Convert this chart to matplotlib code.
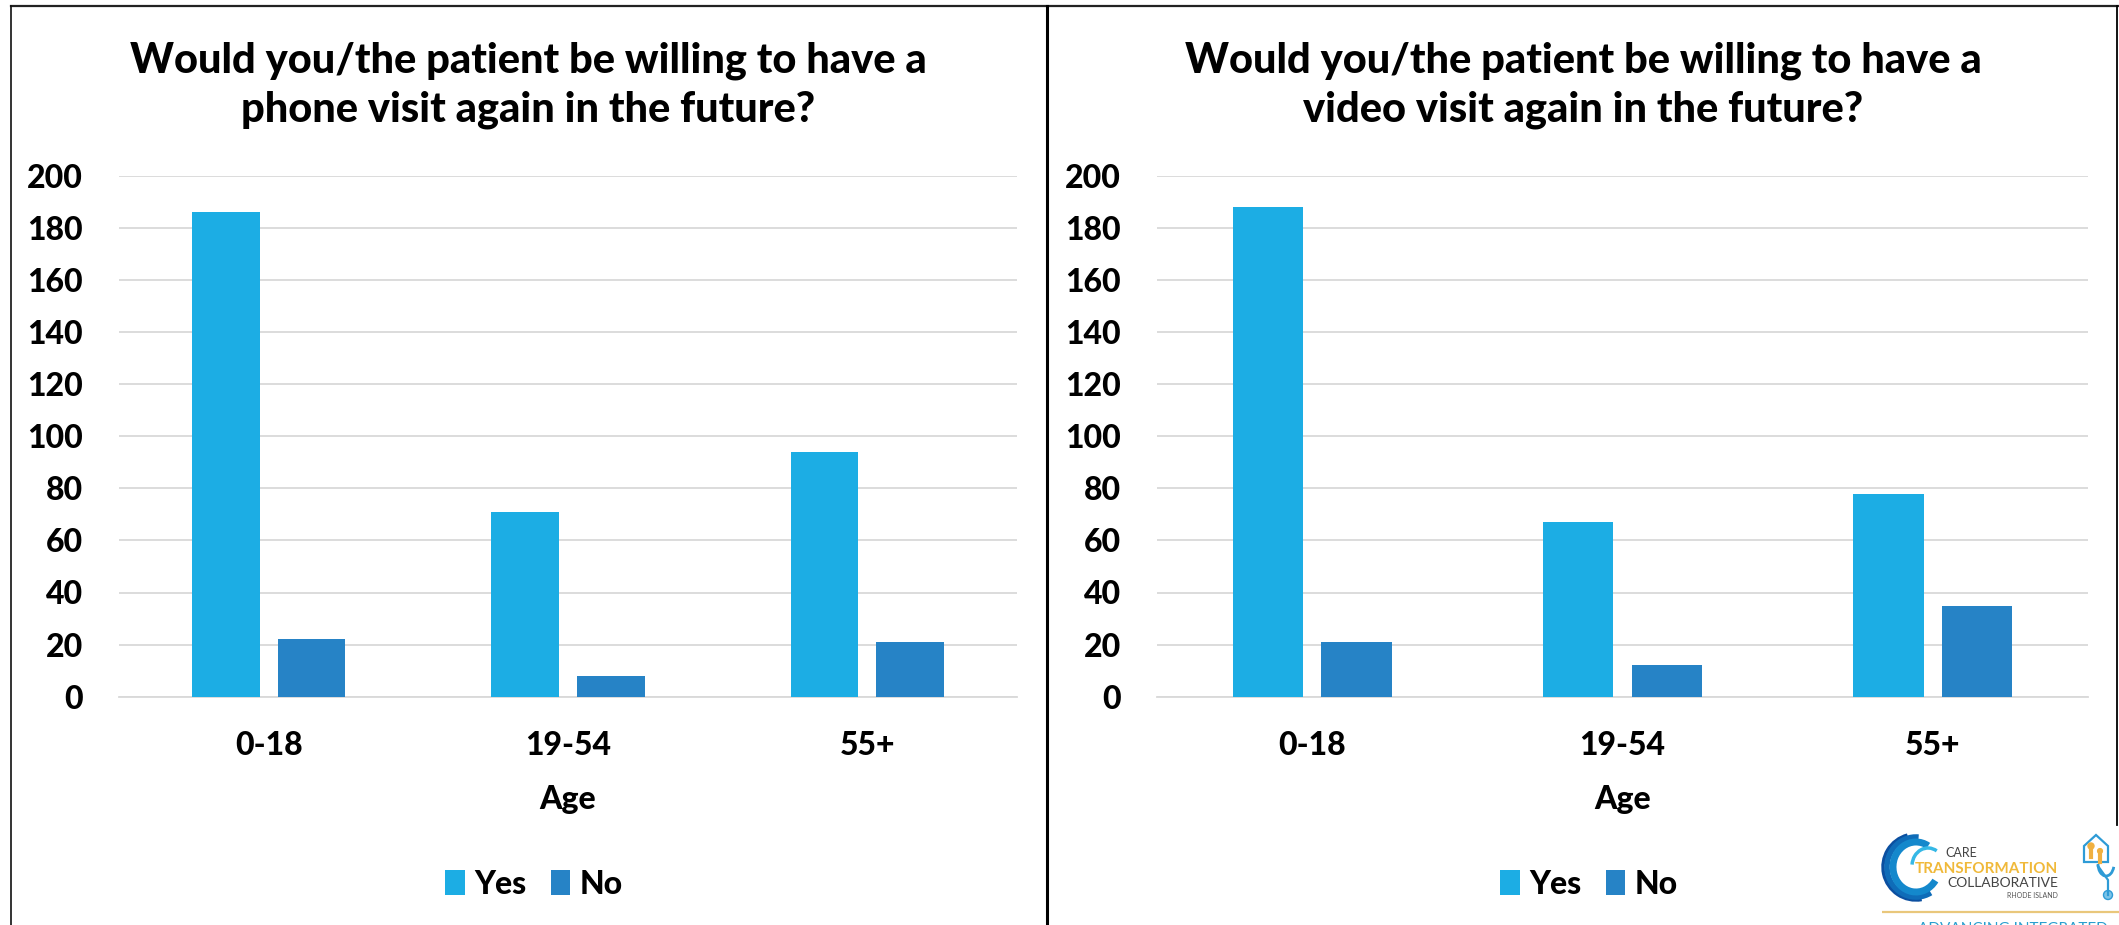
"""Phone and video visit willingness by age group, two panels with a logo corner."""

import numpy as np
import matplotlib

matplotlib.use("Agg")
import matplotlib.pyplot as plt
from matplotlib.patches import Arc, Circle, Polygon

WIDTH, HEIGHT = 2119, 925
DPI = 100

age_groups = ["0-18", "19-54", "55+"]
y_ticks = [0, 20, 40, 60, 80, 100, 120, 140, 160, 180, 200]

phone_yes = [186, 71, 94]
phone_no = [22, 8, 21]
video_yes = [188, 67, 78]
video_no = [21, 12, 35]

phone_title = "Would you/the patient be willing to have a\nphone visit again in the future?"
video_title = "Would you/the patient be willing to have a\nvideo visit again in the future?"

YES_COLOR = "#1CADE4"
NO_COLOR = "#2683C6"
GRID_COLOR = "#D9D9D9"
FONT_TITLE = 30
FONT_TICK = 23
HEAVY = 900

plt.rcParams["font.family"] = ["Lato", "DejaVu Sans"]
plt.rcParams["font.weight"] = HEAVY


def add_panel(fig, overlay, left, right, yes, no, title, title_x, legend_x):
    top, bottom = 175.7, 696.7
    ax = fig.add_axes([left / WIDTH, 1 - bottom / HEIGHT, (right - left) / WIDTH, (bottom - top) / HEIGHT])
    x = np.arange(len(age_groups))
    width = 0.226
    gap = 0.06
    ax.bar(x - (width + gap) / 2, yes, width, color=YES_COLOR, label="Yes", zorder=3)
    ax.bar(x + (width + gap) / 2, no, width, color=NO_COLOR, label="No", zorder=3)
    ax.set_xlim(-0.5, 2.5)
    ax.set_ylim(0, 200)
    ax.set_xticks(x, age_groups)
    ax.set_yticks(y_ticks)
    ax.tick_params(axis="x", length=0, pad=25, labelsize=FONT_TICK)
    ax.tick_params(axis="y", length=0, pad=26, labelsize=FONT_TICK)
    ax.grid(axis="y", color=GRID_COLOR, linewidth=1.3, zorder=0)
    ax.set_axisbelow(True)
    for side in ["top", "left", "right"]:
        ax.spines[side].set_visible(False)
    ax.spines["bottom"].set_color(GRID_COLOR)
    ax.spines["bottom"].set_linewidth(1.3)
    ax.set_xlabel("Age", fontsize=FONT_TICK, fontweight=HEAVY, labelpad=18)

    overlay.text(title_x, 85, title, ha="center", va="center", fontsize=FONT_TITLE,
                 fontweight=HEAVY, linespacing=1.33, color="black")
    fig.legend(*ax.get_legend_handles_labels(), loc="center",
               bbox_to_anchor=(legend_x / WIDTH, 1 - 884 / HEIGHT), ncol=2, frameon=False,
               fontsize=FONT_TICK, handlelength=0.62, handleheight=0.8,
               handletextpad=0.3, columnspacing=0.75, borderpad=0)


def draw_logo(overlay):
    # swirl, layered arcs opening to the right
    cx, cy = 1916, 867
    for w, h, start, end, lw, color in [(66, 66, 80, 255, 2.5, "#0B4FA0"),
                                        (58, 60, 60, 275, 4, "#0F6CB8"),
                                        (46, 50, 35, 300, 5, "#1488CC")]:
        overlay.add_patch(Arc((cx, cy), w, h, theta1=start, theta2=end, color=color, linewidth=lw))
    overlay.add_patch(Arc((cx + 12, cy - 1), 32, 36, theta1=185, theta2=300, color="#35B8E6", linewidth=2.5))

    overlay.text(1961, 853, "CARE", ha="center", va="center", fontsize=9, color="#444444", fontweight="normal")
    overlay.text(2058, 869, "TRANSFORMATION", ha="right", va="center", fontsize=11, color="#F0B93A", fontweight="bold")
    overlay.text(2058, 883, "COLLABORATIVE", ha="right", va="center", fontsize=10, color="#444444", fontweight="normal")
    overlay.text(2058, 895, "RHODE ISLAND", ha="right", va="center", fontsize=5, color="#555555", fontweight="normal")
    overlay.plot([1882, 2119], [912, 912], color="#E9C77B", linewidth=1.6, solid_capstyle="butt")
    overlay.text(1918, 922, "ADVANCING INTEGRATED", ha="left", va="top", fontsize=11, color="#2A9FCF", fontweight="normal")

    # house with stethoscope
    blue = "#2E9BD6"
    overlay.add_patch(Polygon([(2084, 862), (2084, 846), (2096, 835), (2108, 846), (2108, 862)],
                              closed=True, fill=False, edgecolor=blue, linewidth=1.6))
    for px, py, size in [(2091, 846, 3), (2100, 851, 2.4)]:
        overlay.add_patch(Circle((px, py), size, color="#F0B040"))
        overlay.plot([px, px], [py + 2, py + 11], color="#F0B040", linewidth=3)
    overlay.add_patch(Arc((2106, 864), 16, 24, theta1=20, theta2=180, color=blue, linewidth=2))
    overlay.plot([2098, 2108, 2108], [866, 880, 895], color=blue, linewidth=1.6)
    overlay.add_patch(Circle((2108, 895), 4.5, facecolor="#7CC4E8", edgecolor=blue, linewidth=1))


def draw_frame(overlay):
    overlay.plot([10.5, 2119], [6, 6], color="#222222", linewidth=1.6)
    overlay.plot([10.5, 10.5], [6, 925], color="#111111", linewidth=1.2)
    overlay.plot([1047, 1047], [6, 925], color="black", linewidth=2.2)
    overlay.plot([2117, 2117], [6, 825], color="black", linewidth=1.3)


fig = plt.figure(figsize=(WIDTH / DPI, HEIGHT / DPI), dpi=DPI, facecolor="white")
overlay = fig.add_axes([0, 0, 1, 1], zorder=5)
overlay.set_xlim(0, WIDTH)
overlay.set_ylim(HEIGHT, 0)
overlay.axis("off")

add_panel(fig, overlay, 119, 1017, phone_yes, phone_no, phone_title, 528, 534)
add_panel(fig, overlay, 1157, 2088, video_yes, video_no, video_title, 1583, 1589)
draw_frame(overlay)
draw_logo(overlay)

fig.savefig("out.png", dpi=DPI)
plt.close(fig)
